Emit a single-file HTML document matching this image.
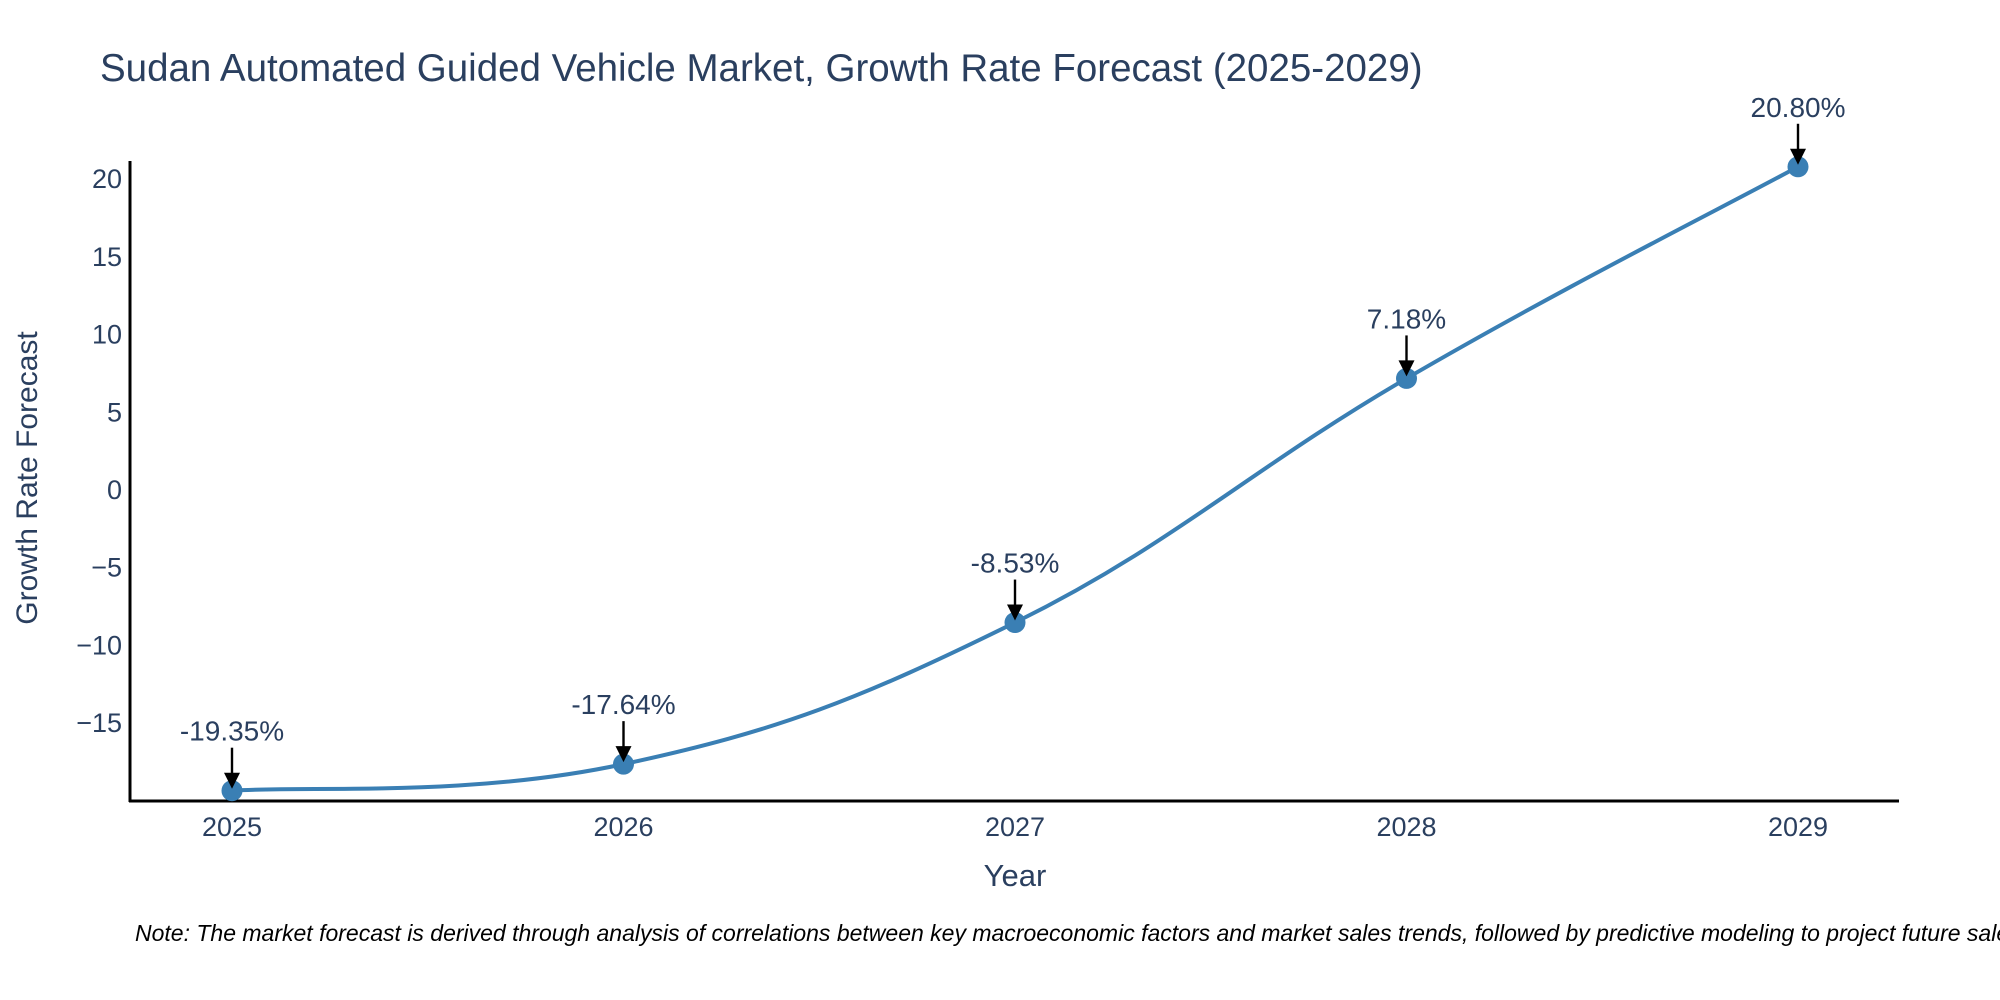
<!DOCTYPE html>
<html><head><meta charset="utf-8">
<style>
html,body{margin:0;padding:0;background:#fff;}
svg{display:block;font-family:"Liberation Sans","DejaVu Sans",sans-serif;}
</style></head>
<body>
<svg id="chart" width="2000" height="1000" viewBox="0 0 2000 1000">
  <text x="100" y="81" font-size="38.5" fill="#2a3f5f">Sudan Automated Guided Vehicle Market, Growth Rate Forecast (2025-2029)</text>
  <g id="yticks"></g>
  <g id="xticks"></g>
  <line x1="130" y1="161" x2="130" y2="802" stroke="#000" stroke-width="3"/>
  <line x1="129" y1="801" x2="1899" y2="801" stroke="#000" stroke-width="3"/>
  <g id="series"></g>
  <g id="annots"></g>
  <text x="1015" y="886" font-size="31" fill="#2a3f5f" text-anchor="middle">Year</text>
  <text x="0" y="0" font-size="30" fill="#2a3f5f" text-anchor="middle" transform="translate(37,478) rotate(-90)">Growth Rate Forecast</text>
  <text x="135" y="941" font-size="23" font-style="italic" fill="#000">Note: The market forecast is derived through analysis of correlations between key macroeconomic factors and market sales trends, followed by predictive modeling to project future sales.</text>
</svg>
<script>
const categories = [2025, 2026, 2027, 2028, 2029];
const growthValues = [-19.35, -17.64, -8.53, 7.18, 20.80];
const yTickValues = [-15, -10, -5, 0, 5, 10, 15, 20];

const NS = "http://www.w3.org/2000/svg";
const xScale = i => 232 + (1798 - 232) * (i / (categories.length - 1));
const yScale = v => 490 - v * (77.7 / 5);

function mk(tag, attrs, parent) {
  const e = document.createElementNS(NS, tag);
  for (const k in attrs) e.setAttribute(k, attrs[k]);
  parent.appendChild(e);
  return e;
}

const yt = document.getElementById('yticks');
yTickValues.forEach(v => {
  const t = mk('text', {x: 122, y: yScale(v) + 9, 'font-size': 27, fill: '#2a3f5f', 'text-anchor': 'end'}, yt);
  
  
  t.textContent = v < 0 ? '\u2212' + Math.abs(v) : String(v);
});

const xt = document.getElementById('xticks');
categories.forEach((c, i) => {
  const t = mk('text', {x: xScale(i), y: 836, 'font-size': 27, fill: '#2a3f5f', 'text-anchor': 'middle'}, xt);
  
  
  t.textContent = String(c);
});

const pts = growthValues.map((v, i) => [xScale(i), yScale(v)]);
let d = 'M' + pts[0][0] + ',' + pts[0][1];
const s = 0.2;
for (let i = 0; i < pts.length - 1; i++) {
  const p0 = pts[Math.max(i - 1, 0)], p1 = pts[i], p2 = pts[i + 1], p3 = pts[Math.min(i + 2, pts.length - 1)];
  const c1 = [p1[0] + (p2[0] - p0[0]) * s, p1[1] + (p2[1] - p0[1]) * s];
  const c2 = [p2[0] - (p3[0] - p1[0]) * s, p2[1] - (p3[1] - p1[1]) * s];
  d += ' C' + c1[0] + ',' + c1[1] + ' ' + c2[0] + ',' + c2[1] + ' ' + p2[0] + ',' + p2[1];
}
const sg = document.getElementById('series');
const line = mk('path', {d: d, fill: 'none', stroke: '#3a7fb4', 'stroke-width': 4}, sg);


pts.forEach(p => {
  const c = mk('circle', {cx: p[0], cy: p[1], r: 10.5, fill: '#3a7fb4'}, sg);
  
  
});

const ag = document.getElementById('annots');
pts.forEach((p, i) => {
  const l = mk('line', {x1: p[0], y1: p[1] - 43, x2: p[0], y2: p[1] - 14, stroke: '#000', 'stroke-width': 2.4}, ag);
  
  
  const h = mk('path', {d: 'M' + (p[0] - 8) + ',' + (p[1] - 18) + ' L' + (p[0] + 8) + ',' + (p[1] - 18) + ' L' + p[0] + ',' + (p[1] - 2) + ' Z', fill: '#000'}, ag);
  
  
  const t = mk('text', {x: p[0], y: p[1] - 50, 'font-size': 28, fill: '#2a3f5f', 'text-anchor': 'middle'}, ag);
  
  
  t.textContent = growthValues[i].toFixed(2) + '%';
});
</script>
</body></html>
